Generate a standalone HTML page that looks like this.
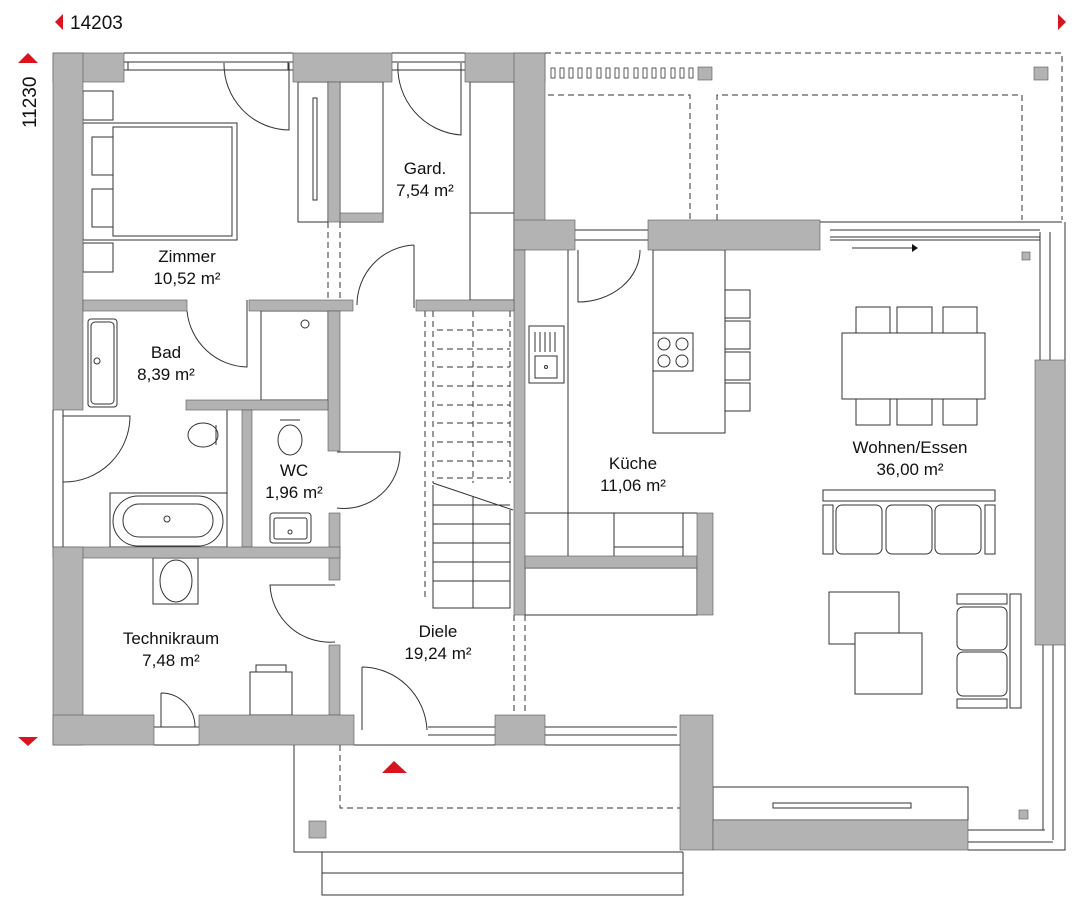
<!DOCTYPE html>
<html><head><meta charset="utf-8"><style>
html,body{margin:0;padding:0;background:#fff;}
svg{display:block;}
text{font-family:"Liberation Sans",sans-serif;fill:#111;}
</style></head><body>
<svg width="1080" height="912" viewBox="0 0 1080 912" xmlns="http://www.w3.org/2000/svg">
<g fill="none" stroke="#333" stroke-width="1">
<!-- top dashed area -->
<g stroke-dasharray="6,4">
<path d="M545 53 H1062 V220"/>
<path d="M548 95 H690 V220 M717 220 V95 H1022 V220"/>
<path d="M328 222 V300 M340 222 V300"/>
<path d="M514 615 V715 M525 615 V715"/>
<path d="M340 745 V808 H683"/>
</g>
<!-- windows top -->
<path d="M124 53 H293 M124 62 H293 M124 70 H293 M128 62 V70 M288 62 V70"/>
<path d="M392 53 H465 M392 62 H465 M392 70 H465"/>
<path d="M575 230 H648 M575 240 H648"/>
<path d="M820 222 H1062 M830 230 H1040 M830 237 H1040 M830 240 H1040 M1040 232 V360 M1050 232 V360"/>
<path d="M1065 222 V850 H968 M1043 645 V830 M1053 645 V840 M968 830 H1045 M968 842 H1053"/>
<path d="M852 248 H912"/>
<!-- left lower window -->
<path d="M53 410 V547 M63 410 V547"/>
<!-- bottom windows -->
<path d="M154 727 H199 M154 745 H199 M428 727 H495 M428 735 H495 M354 745 H495 M545 727 H677 M545 735 H677 M545 745 H680"/>
<!-- terrace -->
<path d="M294 745 V852 H683 M322 852 V895 H683 V852 M322 873 H683"/>
<!-- Zimmer furniture -->
<rect x="83" y="91" width="30" height="29"/><rect x="83" y="243" width="30" height="29"/>
<rect x="83" y="123" width="154" height="117"/><rect x="113" y="127" width="119" height="109"/>
<rect x="92" y="137" width="21" height="38"/><rect x="92" y="189" width="21" height="38"/>
<!-- doors -->
<path d="M289 63 V130 A66 66 0 0 1 224 63"/>
<path d="M461 63 V135 A68 68 0 0 1 398 63"/>
<path d="M247 300 V367 A62 62 0 0 1 187 311"/>
<path d="M414 245 V308 M414 245 A60 60 0 0 0 357 305"/>
<path d="M63 416 H130 A66 66 0 0 1 63 482"/>
<path d="M337 452 H400 A56 56 0 0 1 337 508"/>
<path d="M335 585 H270 A60 60 0 0 0 335 642"/>
<path d="M161 693 V727 M161 693 A34 34 0 0 1 195 727"/>
<path d="M362 667 V730 M362 667 A66 66 0 0 1 427 730"/>
<path d="M578 250 V302 A62 52 0 0 0 640 250"/>
<!-- wardrobes -->
<rect x="298" y="82" width="30" height="140"/><rect x="313" y="98" width="4" height="102"/>
<rect x="340" y="82" width="43" height="140"/>
<rect x="470" y="82" width="44" height="218"/><path d="M470 213 H514"/>
<!-- Bad -->
<rect x="88" y="319" width="29" height="88" rx="3"/><rect x="91" y="322" width="23" height="82" rx="4"/><circle cx="97" cy="361" r="3"/>
<rect x="261" y="311" width="67" height="89"/><circle cx="305" cy="324" r="4"/>
<path d="M227 410 V547"/>
<ellipse cx="203" cy="435" rx="15" ry="12"/><path d="M216 425 V445 M227 425 V445"/>
<rect x="110" y="493" width="117" height="54"/><rect x="113" y="496" width="110" height="50" rx="25"/><rect x="123" y="504" width="90" height="33" rx="16"/><circle cx="167" cy="519" r="3"/>
<!-- WC -->
<ellipse cx="290" cy="440" rx="12" ry="15"/><path d="M280 420 H300"/>
<rect x="270" y="513" width="41" height="30" rx="3"/><rect x="274" y="518" width="33" height="21" rx="2"/><circle cx="290" cy="532" r="2"/>
<!-- Technik -->
<rect x="153" y="558" width="45" height="46"/><ellipse cx="176" cy="581" rx="16" ry="21"/>
<rect x="250" y="672" width="42" height="43"/><rect x="256" y="665" width="30" height="7"/>
<!-- stairs -->
<g stroke-dasharray="6,4">
<path d="M425 311 V600 M433 311 V483 M473 311 V483 M510 311 V483"/>
<path d="M437 330 H510 M437 349 H510 M437 367 H510 M437 386 H510 M437 405 H510 M437 423 H510 M437 442 H510 M437 461 H510 M437 478 H510"/>
</g>
<path d="M433 485 V608 H510 V510 M433 483 L513 510 M473 497 V608 M433 505 H510 M433 524 H510 M433 543 H510 M433 562 H510 M433 581 H510"/>
<!-- kitchen -->
<path d="M568 250 V556"/>
<rect x="529" y="326" width="35" height="57"/><rect x="535" y="356" width="22" height="22"/><circle cx="546" cy="367" r="1.5"/>
<path d="M535 332 V352 M540 332 V352 M545 332 V352 M550 332 V352 M555 332 V352"/>
<path d="M525 513 H697 M614 513 V556 M683 513 V556 M614 547 H683"/>
<rect x="525" y="568" width="172" height="47"/>
<rect x="653" y="250" width="72" height="183"/>
<rect x="653" y="333" width="40" height="38"/>
<circle cx="664" cy="344" r="6"/><circle cx="682" cy="344" r="6"/><circle cx="664" cy="361" r="6"/><circle cx="682" cy="361" r="6"/>
<rect x="725" y="290" width="25" height="28"/><rect x="725" y="321" width="25" height="28"/><rect x="725" y="352" width="25" height="28"/><rect x="725" y="383" width="25" height="28"/>
<!-- dining -->
<rect x="842" y="333" width="143" height="66"/>
<rect x="856" y="307" width="34" height="26"/><rect x="897" y="307" width="35" height="26"/><rect x="943" y="307" width="34" height="26"/>
<rect x="856" y="399" width="34" height="26"/><rect x="897" y="399" width="35" height="26"/><rect x="943" y="399" width="34" height="26"/>
<!-- sofa -->
<rect x="823" y="490" width="172" height="11"/>
<rect x="823" y="505" width="10" height="49"/><rect x="985" y="505" width="10" height="49"/>
<rect x="836" y="505" width="46" height="49" rx="6"/><rect x="886" y="505" width="46" height="49" rx="6"/><rect x="935" y="505" width="46" height="49" rx="6"/>
<rect x="829" y="592" width="70" height="52"/><rect x="855" y="633" width="67" height="61" fill="#fff"/>
<rect x="957" y="594" width="50" height="10"/><rect x="957" y="607" width="50" height="43" rx="6"/><rect x="957" y="652" width="50" height="44" rx="6"/><rect x="957" y="699" width="50" height="9"/>
<rect x="1010" y="594" width="11" height="114"/>
<rect x="713" y="787" width="255" height="33"/><rect x="773" y="803" width="138" height="5"/>
</g>
<path d="M912 244 L918 248 L912 252Z" fill="#111"/>
<!-- walls -->
<g fill="#b3b3b3" stroke="#555" stroke-width="0.6">
<rect x="53" y="53" width="71" height="29"/><rect x="53" y="53" width="30" height="357"/>
<rect x="293" y="53" width="99" height="29"/><rect x="328" y="82" width="12" height="140"/><rect x="340" y="213" width="43" height="9"/>
<rect x="465" y="53" width="80" height="29"/><rect x="514" y="53" width="31" height="170"/>
<rect x="514" y="220" width="61" height="30"/><rect x="648" y="220" width="172" height="30"/>
<rect x="514" y="250" width="11" height="365"/>
<rect x="83" y="300" width="104" height="11"/><rect x="249" y="300" width="104" height="11"/><rect x="416" y="300" width="98" height="11"/>
<rect x="328" y="311" width="12" height="140"/>
<rect x="186" y="400" width="142" height="10"/>
<rect x="242" y="410" width="10" height="137"/>
<rect x="329" y="513" width="11" height="67"/>
<rect x="53" y="547" width="287" height="11"/>
<rect x="53" y="547" width="30" height="198"/>
<rect x="329" y="645" width="11" height="70"/>
<rect x="53" y="715" width="101" height="30"/><rect x="199" y="715" width="155" height="30"/>
<rect x="495" y="715" width="50" height="30"/>
<rect x="525" y="556" width="172" height="12"/><rect x="697" y="513" width="16" height="102"/>
<rect x="680" y="715" width="33" height="135"/><rect x="713" y="820" width="255" height="30"/>
<rect x="1035" y="360" width="30" height="285"/>
<rect x="698" y="67" width="14" height="13"/><rect x="1034" y="67" width="14" height="13"/>
<rect x="1022" y="252" width="8" height="8"/><rect x="1019" y="810" width="9" height="9"/>
<rect x="309" y="821" width="17" height="17"/>
</g>
<g fill="#fff" stroke="#333" stroke-width="0.8">
<rect x="551" y="68" width="4" height="10"/><rect x="560" y="68" width="4" height="10"/><rect x="569" y="68" width="4" height="10"/><rect x="578" y="68" width="4" height="10"/><rect x="587" y="68" width="4" height="10"/><rect x="597" y="68" width="4" height="10"/><rect x="606" y="68" width="4" height="10"/><rect x="615" y="68" width="4" height="10"/><rect x="624" y="68" width="4" height="10"/><rect x="634" y="68" width="4" height="10"/><rect x="643" y="68" width="4" height="10"/><rect x="652" y="68" width="4" height="10"/><rect x="661" y="68" width="4" height="10"/><rect x="671" y="68" width="4" height="10"/><rect x="680" y="68" width="4" height="10"/><rect x="689" y="68" width="4" height="10"/>
</g>
<!-- red markers -->
<g fill="#d9141e">
<path d="M55 22 L63 14 V30Z"/><path d="M1066 22 L1058 14 V30Z"/>
<path d="M18 63 L28 53 L38 63Z"/><path d="M18 737 L38 737 L28 746Z"/>
<path d="M382 773 L394 761 L407 773Z"/>
</g>
<text x="70" y="29" font-size="19">14203</text>
<text transform="translate(36,128) rotate(-90)" font-size="19">11230</text>
<g font-size="17" text-anchor="middle">
<text x="187" y="262">Zimmer</text><text x="187" y="284">10,52 m²</text>
<text x="425" y="174">Gard.</text><text x="425" y="196">7,54 m²</text>
<text x="166" y="358">Bad</text><text x="166" y="380">8,39 m²</text>
<text x="294" y="476">WC</text><text x="294" y="498">1,96 m²</text>
<text x="633" y="469">Küche</text><text x="633" y="491">11,06 m²</text>
<text x="910" y="453">Wohnen/Essen</text><text x="910" y="475">36,00 m²</text>
<text x="171" y="644">Technikraum</text><text x="171" y="666">7,48 m²</text>
<text x="438" y="637">Diele</text><text x="438" y="659">19,24 m²</text>
</g>
</svg>
</body></html>
